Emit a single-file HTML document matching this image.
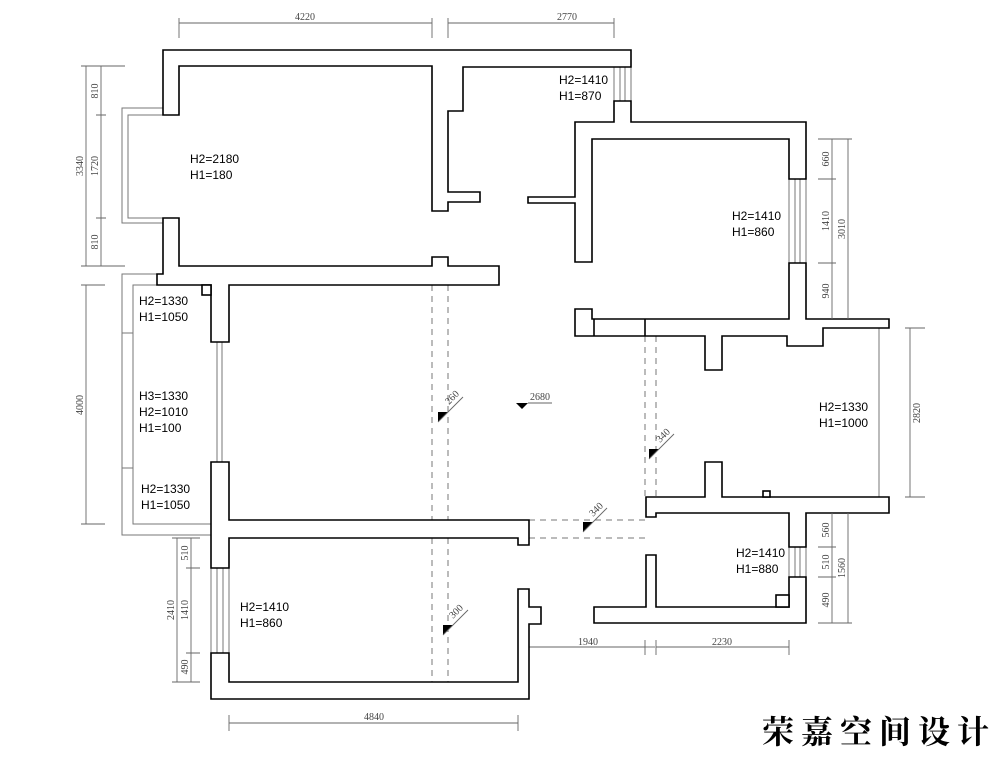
<!DOCTYPE html>
<html><head><meta charset="utf-8"><style>
html,body{margin:0;padding:0;background:#fff;}
svg{display:block;}
.w{fill:#fff;stroke:#000;stroke-width:1.6;stroke-linejoin:miter;}
.t{fill:none;stroke:#777;stroke-width:1;}
.d{fill:none;stroke:#666;stroke-width:0.9;}
.ds{fill:none;stroke:#777;stroke-width:1;stroke-dasharray:6,5;}
.lab{font-family:"Liberation Sans",sans-serif;font-size:12px;fill:#000;}
.dim{font-family:"Liberation Serif",serif;font-size:10px;fill:#444;}
</style></head><body>
<svg width="1000" height="759" viewBox="0 0 1000 759" xmlns="http://www.w3.org/2000/svg">
<!-- dashed guides -->
<line class="ds" x1="432" y1="285" x2="432" y2="682"/>
<line class="ds" x1="448" y1="285" x2="448" y2="682"/>
<line class="ds" x1="645" y1="336" x2="645" y2="497"/>
<line class="ds" x1="656" y1="336" x2="656" y2="497"/>
<line class="ds" x1="529" y1="520" x2="645" y2="520"/>
<line class="ds" x1="529" y1="538" x2="645" y2="538"/>

<!-- balconies thin lines -->
<path class="t" d="M163,108 H122 V223 H163 M163,115 H128 V218 H163"/>
<path class="t" d="M157,274 H122 V535 H211 M157,285 H133 V524 H211 M122,333 H133 M122,468 H133"/>
<path class="t" d="M217,342 V462 M222,342 V462"/>
<path class="t" d="M879,328 V497"/>
<path class="t" d="M529,647 H655"/>

<!-- windows -->
<g class="t">
<rect x="614" y="67" width="17" height="34"/><line x1="620" y1="67" x2="620" y2="101"/><line x1="625" y1="67" x2="625" y2="101"/>
<rect x="789" y="179" width="17" height="84"/><line x1="795" y1="179" x2="795" y2="263"/><line x1="800" y1="179" x2="800" y2="263"/>
<rect x="789" y="547" width="17" height="30"/><line x1="795" y1="547" x2="795" y2="577"/><line x1="800" y1="547" x2="800" y2="577"/>
<rect x="211" y="568" width="18" height="85"/><line x1="217" y1="568" x2="217" y2="653"/><line x1="223" y1="568" x2="223" y2="653"/>
</g>

<!-- walls -->
<polygon class="w" points="163,50 631,50 631,67 463,67 463,111 448,111 448,192 480,192 480,202 448,202 448,211 432,211 432,66 179,66 179,115 163,115"/>
<polygon class="w" points="163,218 179,218 179,266 432,266 432,257 448,257 448,266 499,266 499,285 229,285 229,342 211,342 211,285 157,285 157,274 163,274"/>
<rect class="w" x="202" y="285" width="9" height="10"/>
<polygon class="w" points="575,262 575,203 528,203 528,197 575,197 575,122 614,122 614,101 631,101 631,122 806,122 806,179 789,179 789,139 592,139 592,262"/>
<polygon class="w" points="575,309 592,309 592,319 789,319 789,263 806,263 806,319 889,319 889,328 823,328 823,346 787,346 787,336 722,336 722,370 705,370 705,336 575,336"/>
<line class="w" x1="594" y1="319" x2="594" y2="336"/>
<line class="w" x1="645" y1="319" x2="645" y2="336"/>
<polygon class="w" points="646,497 705,497 705,462 722,462 722,497 889,497 889,513 806,513 806,547 789,547 789,513 656,513 656,517 646,517"/>
<rect class="w" x="763" y="491" width="7" height="6"/>
<polygon class="w" points="789,577 806,577 806,623 594,623 594,607 646,607 646,555 656,555 656,607 789,607"/>
<rect class="w" x="776" y="595" width="13" height="12"/>
<polygon class="w" points="211,462 229,462 229,520 529,520 529,545 518,545 518,538 229,538 229,568 211,568"/>
<polygon class="w" points="211,653 229,653 229,682 518,682 518,589 529,589 529,607 541,607 541,624 529,624 529,699 211,699"/>

<!-- dimensions -->
<g class="d">
<path d="M179,23 H432 M179,18 V38 M432,18 V38"/>
<path d="M448,23 H614 M448,18 V38 M614,18 V38"/>
<path d="M86,66 V266 M101,66 V266 M81,66 H125 M81,266 H125 M96,115 H106 M96,218 H106"/>
<path d="M86,285 V524 M81,285 H105 M81,524 H105"/>
<path d="M177,538 V682 M191,538 V682 M172,538 H200 M172,682 H200 M186,568 H200 M186,653 H200"/>
<path d="M229,723 H518 M229,715 V731 M518,715 V731"/>
<path d="M530,647 H645 M645,640 V655 M656,640 V655 M656,647 H789 M789,640 V655"/>
<path d="M832,139 V319 M848,139 V319 M818,139 H852 M818,179 H836 M818,263 H836"/>
<path d="M910,328 V497 M905,328 H925 M905,497 H925"/>
<path d="M832,513 V623 M848,513 V623 M818,623 H852 M818,547 H836 M818,577 H836"/>
</g>
<g class="dim">
<text x="305" y="20" text-anchor="middle">4220</text>
<text x="567" y="20" text-anchor="middle">2770</text>
<text x="1306" y="604" text-anchor="middle" transform="rotate(-90 88 400)" style="display:none">x</text>
<text transform="translate(83,166) rotate(-90)" text-anchor="middle">3340</text>
<text transform="translate(98,91) rotate(-90)" text-anchor="middle">810</text>
<text transform="translate(98,166) rotate(-90)" text-anchor="middle">1720</text>
<text transform="translate(98,242) rotate(-90)" text-anchor="middle">810</text>
<text transform="translate(83,405) rotate(-90)" text-anchor="middle">4000</text>
<text transform="translate(174,610) rotate(-90)" text-anchor="middle">2410</text>
<text transform="translate(188,553) rotate(-90)" text-anchor="middle">510</text>
<text transform="translate(188,610) rotate(-90)" text-anchor="middle">1410</text>
<text transform="translate(188,667) rotate(-90)" text-anchor="middle">490</text>
<text x="374" y="720" text-anchor="middle">4840</text>
<text x="588" y="645" text-anchor="middle">1940</text>
<text x="722" y="645" text-anchor="middle">2230</text>
<text transform="translate(829,159) rotate(-90)" text-anchor="middle">660</text>
<text transform="translate(829,221) rotate(-90)" text-anchor="middle">1410</text>
<text transform="translate(829,291) rotate(-90)" text-anchor="middle">940</text>
<text transform="translate(845,229) rotate(-90)" text-anchor="middle">3010</text>
<text transform="translate(920,413) rotate(-90)" text-anchor="middle">2820</text>
<text transform="translate(829,530) rotate(-90)" text-anchor="middle">560</text>
<text transform="translate(829,562) rotate(-90)" text-anchor="middle">510</text>
<text transform="translate(829,600) rotate(-90)" text-anchor="middle">490</text>
<text transform="translate(845,568) rotate(-90)" text-anchor="middle">1560</text>
</g>

<!-- level markers -->
<g>
<polygon points="438,412 438,422 448,412" fill="#000"/>
<line class="d" x1="438" y1="422" x2="463" y2="397"/>
<text class="dim" transform="translate(449,405) rotate(-45)">260</text>
<polygon points="516,403 528,403 522,409" fill="#000"/>
<line class="d" x1="528" y1="403" x2="552" y2="403"/>
<text class="dim" x="530" y="400">2680</text>
<polygon points="649,449 649,459 659,449" fill="#000"/>
<line class="d" x1="649" y1="459" x2="674" y2="434"/>
<text class="dim" transform="translate(660,443) rotate(-45)">340</text>
<polygon points="583,522 583,532 593,522" fill="#000"/>
<line class="d" x1="583" y1="532" x2="607" y2="508"/>
<text class="dim" transform="translate(593,517) rotate(-45)">340</text>
<polygon points="443,625 443,635 453,625" fill="#000"/>
<line class="d" x1="443" y1="635" x2="468" y2="610"/>
<text class="dim" transform="translate(453,619) rotate(-45)">300</text>
</g>

<!-- labels -->
<g class="lab">
<text x="190" y="163">H2=2180</text><text x="190" y="179">H1=180</text>
<text x="559" y="84">H2=1410</text><text x="559" y="100">H1=870</text>
<text x="732" y="220">H2=1410</text><text x="732" y="236">H1=860</text>
<text x="139" y="305">H2=1330</text><text x="139" y="321">H1=1050</text>
<text x="139" y="400">H3=1330</text><text x="139" y="416">H2=1010</text><text x="139" y="432">H1=100</text>
<text x="141" y="493">H2=1330</text><text x="141" y="509">H1=1050</text>
<text x="819" y="411">H2=1330</text><text x="819" y="427">H1=1000</text>
<text x="736" y="557">H2=1410</text><text x="736" y="573">H1=880</text>
<text x="240" y="611">H2=1410</text><text x="240" y="627">H1=860</text>
</g>

<text x="762" y="743" style="font-family:'Liberation Serif','Noto Serif CJK SC',serif;font-size:32px;font-weight:bold;letter-spacing:7px;fill:#000;">荣嘉空间设计</text>
</svg>
</body></html>
